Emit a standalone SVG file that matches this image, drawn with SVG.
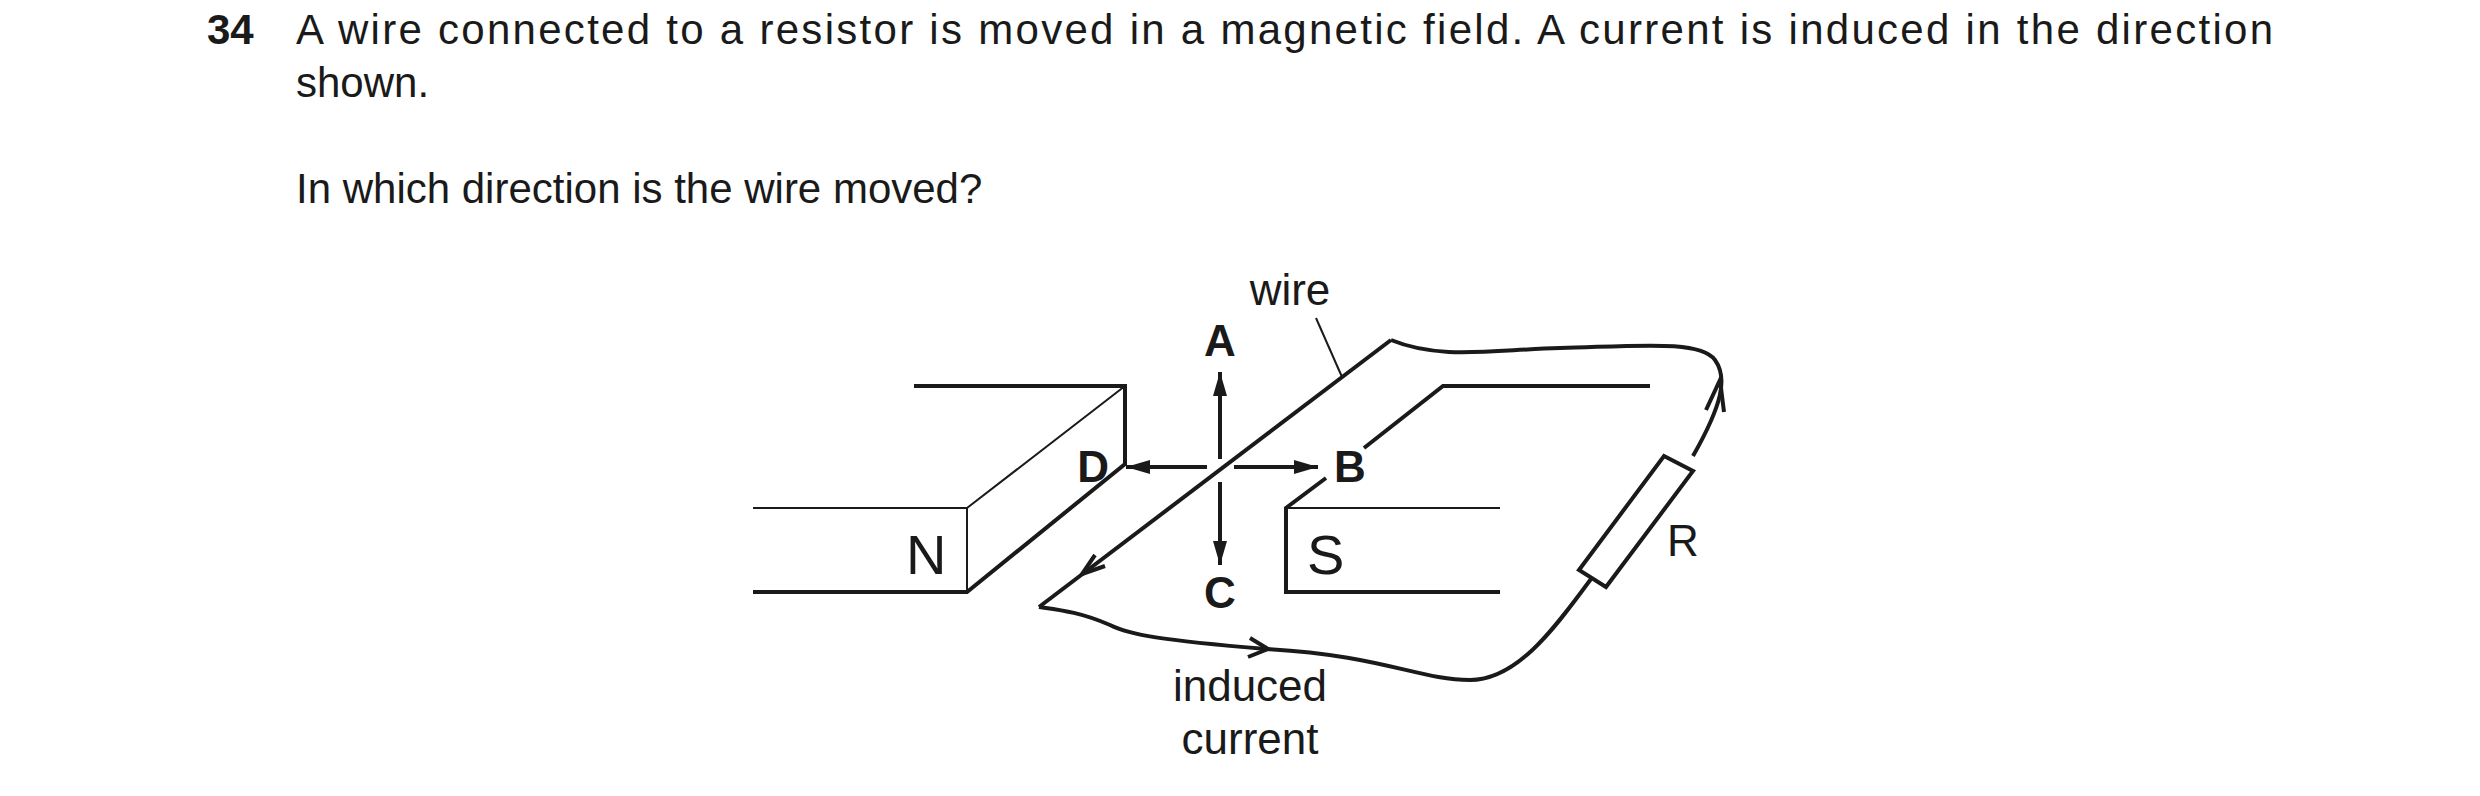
<svg xmlns="http://www.w3.org/2000/svg" width="2480" height="796" viewBox="0 0 2480 796">
<style>
text{font-family:"Liberation Sans",Arial,sans-serif;font-size:42px;fill:#1a1a1a}
.b{font-weight:bold}
.l{font-size:44px}
.p{font-size:56px}
.k{stroke:#1a1a1a;stroke-width:4;fill:none;stroke-linejoin:miter}
.t{stroke:#1a1a1a;stroke-width:2;fill:none}
.w{stroke:#1a1a1a;stroke-width:4;fill:none}
</style>
<defs>
<marker id="ah" viewBox="0 0 24 14" refX="24" refY="7" markerUnits="userSpaceOnUse" markerWidth="24" markerHeight="14" orient="auto"><path d="M0,0 L24,7 L0,14 Z" fill="#1a1a1a"/></marker>
</defs>
<g id="question">
<text x="207" y="44" class="b">34</text>
<text x="296" y="44" textLength="1977">A wire connected to a resistor is moved in a magnetic field. A current is induced in the direction</text>
<text x="296" y="97">shown.</text>
<text x="296" y="203">In which direction is the wire moved?</text>
</g>
<g id="magnetN">
<path class="k" d="M914,386 H1125 V464 L967,592 H753"/>
<path class="t" d="M1125,386 L967,508 M753,508 H967 V592"/>
<text x="906" y="574" class="p">N</text>
</g>
<g id="magnetS">
<path class="k" d="M1650,386 H1443 L1364,448 M1326,478 L1286,508 V592 H1500"/>
<path class="t" d="M1286,508 H1500"/>
<text x="1307" y="574" class="p">S</text>
</g>
<g id="resistor">
<path class="k" d="M1664,456 L1693,471 L1606,587 L1579,570 Z"/>
<text x="1667" y="556" class="l">R</text>
</g>
<g id="connectors">
<path class="w" d="M1391,340 L1039,607"/>
<path class="w" d="M1391,340 C1440,360 1490,350 1560,348 C1640,346 1700,340 1715,360 C1728,378 1722,405 1693,456"/>
<path class="w" d="M1591,579 C1560,620 1520,680 1470,680 C1420,680 1380,655 1266,649 C1160,640 1130,635 1110,625 C1080,612 1060,610 1039,607"/>
<path class="w" d="M1095,555 L1082,574 L1105,566"/>
<path class="w" d="M1706,410 L1720,380 L1724,412"/>
<path class="w" d="M1250,638 L1268,649 L1248,657"/>
<path class="t" d="M1316,318 L1342,377"/>
<path class="k" d="M1220,459 V372" marker-end="url(#ah)"/>
<path class="k" d="M1220,482 V565" marker-end="url(#ah)"/>
<path class="k" d="M1207,467 H1126" marker-end="url(#ah)"/>
<path class="k" d="M1234,467 H1318" marker-end="url(#ah)"/>
</g>
<g id="labels">
<text x="1220" y="356" class="b l" text-anchor="middle">A</text>
<text x="1220" y="608" class="b l" text-anchor="middle">C</text>
<text x="1109" y="482" class="b l" text-anchor="end">D</text>
<text x="1350" y="482" class="b l" text-anchor="middle">B</text>
<text x="1290" y="305" class="l" text-anchor="middle">wire</text>
<text x="1250" y="701" class="l" text-anchor="middle">induced</text>
<text x="1250" y="754" class="l" text-anchor="middle">current</text>
</g>
</svg>
